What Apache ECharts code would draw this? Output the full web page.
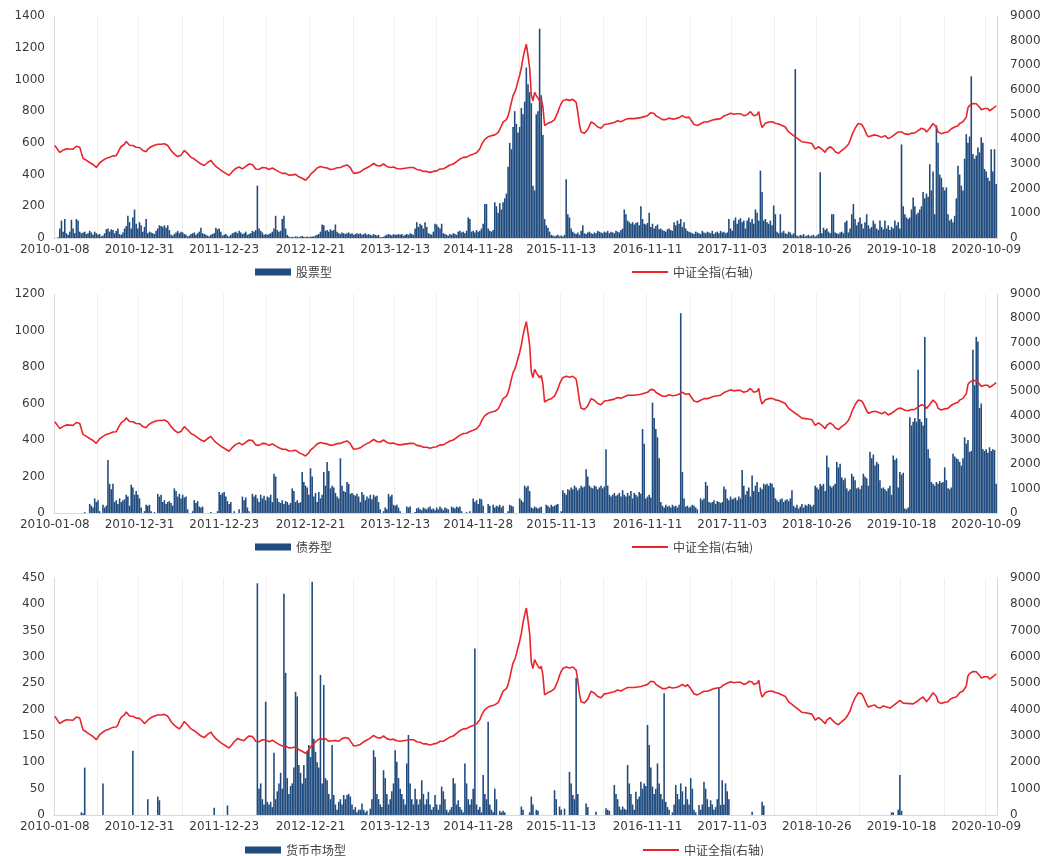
<!DOCTYPE html>
<html><head><meta charset="utf-8">
<script src="https://cdn.jsdelivr.net/npm/echarts@6/dist/echarts.min.js"></script>
<style>html,body{margin:0;padding:0;background:#fff}#c{width:1061px;height:856px}</style>
</head><body><div id="c"></div>
<script>
// weekly observation dates (Fridays) starting 2010-01-08
const START_YEAR = 2010, START_MONTH = 0, START_DAY = 8;
const WEEK_COUNT = 568;

const tickLabels = ['2010-01-08','2010-12-31','2011-12-23','2012-12-21','2013-12-13','2014-11-28',
  '2015-11-13','2016-11-11','2017-11-03','2018-10-26','2019-10-18','2020-10-09'];

// 中证全指 weekly close (right axis)
const csiAll = [
// 2010
3750,3680,3560,3470,3520,3560,3600,3620,3580,3610,3640,3600,3660,3720,3750,3680,3450,3230,3280,3150,
3120,3060,3000,2980,2920,2860,2900,3050,3120,3150,3180,3230,3250,3270,3300,3330,3350,3340,3420,3600,
3710,3760,3810,3910,3850,3760,3720,3750,3700,3680,3650,3670,
// 2011
3650,3550,3470,3500,3600,3670,3700,3720,3760,3790,3800,3780,3800,3830,3820,3790,3750,3650,3550,3470,
3400,3350,3300,3270,3350,3450,3550,3500,3420,3350,3270,3250,3200,3150,3100,3060,3000,2960,2940,3000,
3060,3100,3150,3050,2980,2900,2860,2800,2750,2700,2650,2620,
// 2012
2580,2540,2620,2700,2780,2820,2900,2880,2860,2800,2820,2900,2960,3000,3020,2980,2900,2800,2740,2780,
2820,2860,2880,2850,2800,2780,2820,2840,2800,2760,2720,2680,2640,2620,2600,2620,2580,2550,2540,2560,
2600,2580,2520,2480,2460,2420,2380,2340,2380,2480,2580,2640,
// 2013
2700,2780,2840,2880,2900,2880,2860,2900,2840,2800,2780,2820,2800,2830,2850,2800,2860,2900,2920,2940,
2960,2900,2850,2720,2620,2600,2640,2700,2680,2720,2780,2820,2850,2900,2920,2960,3020,2980,2940,2900,
2920,2960,3000,2960,2900,2880,2860,2900,2880,2840,2820,2800,
// 2014
2800,2780,2820,2860,2840,2800,2860,2840,2860,2820,2780,2800,2760,2720,2700,2740,2700,2680,2660,2680,
2700,2680,2720,2760,2800,2820,2800,2840,2880,2920,2960,3020,3000,3060,3100,3150,3200,3230,3270,3250,
3280,3300,3350,3420,3400,3430,3460,3500,3620,3780,3900,4000,
// 2015
4050,4100,4080,4150,4200,4180,4250,4270,4400,4550,4700,4640,4800,4950,5200,5500,5770,5900,6100,6370,
6600,6900,7300,7600,7860,7400,6900,5800,5560,5900,5770,5700,5560,5650,5300,4560,4500,4650,4600,4700,
4760,4800,4850,5100,5300,5450,5560,5500,5620,5650,5580,5600,
// 2016
5620,5650,5500,5100,4600,4300,4230,4250,4300,4400,4550,4700,4650,4630,4600,4500,4430,4450,4500,4600,
4650,4620,4600,4650,4700,4680,4720,4750,4700,4710,4740,4780,4800,4840,4820,4840,4860,4840,4880,4860,
4840,4880,4900,4920,4940,4960,5000,5080,5120,5050,4960,4900,4880,
// 2017
4850,4800,4760,4800,4840,4860,4840,4820,4860,4840,4840,4880,4900,4960,4920,4880,4960,4900,4800,4700,
4600,4560,4560,4600,4630,4650,4700,4720,4700,4750,4750,4780,4800,4840,4820,4860,4840,4900,4950,4980,
5000,5040,5060,5040,5020,5050,5040,5080,5040,4980,4960,4990,
// 2018
5000,5080,5120,5050,4960,4900,5000,5120,4700,4480,4560,4650,4680,4700,4680,4710,4720,4650,4600,4620,
4580,4560,4550,4500,4400,4300,4270,4200,4140,4100,4070,4000,3930,3900,3950,3880,3900,3860,3850,3830,
3800,3600,3650,3700,3680,3600,3550,3470,3600,3650,3700,3620,
// 2019
3600,3500,3450,3430,3480,3550,3600,3650,3730,3800,3950,4150,4300,4450,4550,4640,4710,4600,4500,4350,
4200,4100,4070,4150,4220,4180,4100,4140,4060,4080,4140,4150,4100,4030,4060,4100,4150,4200,4250,4300,
4350,4300,4250,4220,4240,4200,4230,4250,4220,4260,4300,4350,
// 2020
4400,4450,4480,4400,4300,4350,4450,4550,4640,4600,4500,4300,4250,4230,4300,4280,4350,4300,4380,4430,
4450,4500,4480,4550,4640,4700,4710,4750,4900,5280,5370,5420,5450,5400,5440,5380,5300,5200,5160,5250,
5300,5250,5160,5200,5250,5300,5360
];

// 股票型 (left axis, panel 1)
const equityFunds = [
// 2010
0,0,5,60,110,40,120,30,20,40,115,60,30,120,110,40,30,35,40,25,
30,45,35,20,40,30,20,25,10,15,30,55,60,40,55,50,30,45,60,25,
20,35,60,75,140,100,60,130,180,90,60,100,
// 2011
80,40,70,120,30,40,35,30,25,45,60,80,75,70,80,65,80,50,20,15,
25,35,45,30,40,35,25,20,10,15,25,30,35,20,30,40,65,30,25,20,
15,10,20,25,30,65,55,60,40,15,20,25,
// 2012
15,10,20,30,35,40,30,45,35,25,30,40,20,25,30,45,40,50,330,60,
45,35,20,25,20,25,30,40,60,140,50,40,45,120,140,60,20,10,5,8,
5,10,8,5,10,12,8,5,10,5,8,10,
// 2013
10,15,20,25,40,85,80,45,50,40,55,45,50,85,40,30,25,35,30,25,
30,35,25,30,20,25,30,25,30,20,25,30,20,25,20,15,25,20,15,20,
5,5,8,15,20,25,20,15,25,20,20,25,
// 2014
20,25,15,20,25,20,30,25,20,60,100,70,90,80,60,100,70,30,25,20,
40,90,85,70,60,90,30,25,20,15,25,20,30,25,20,40,45,35,40,30,
45,130,120,40,45,35,50,40,45,60,90,215,
// 2015
215,60,45,40,50,225,200,160,220,180,225,250,280,450,600,560,700,800,720,665,
700,820,780,860,1075,970,920,850,330,300,780,800,1320,900,650,120,80,65,40,20,
15,10,15,20,10,15,10,20,370,150,130,60,
// 2016
40,30,25,35,20,45,80,30,25,35,40,30,25,35,30,45,40,35,30,40,
35,45,30,40,35,30,45,40,35,50,60,180,150,110,100,90,100,85,95,100,
80,200,120,90,85,95,160,70,90,60,75,85,55,
// 2017
60,50,45,40,55,60,50,45,100,80,110,90,120,70,100,60,45,40,35,30,
25,40,35,30,25,45,35,30,40,35,30,45,25,35,40,30,45,35,40,30,
35,120,60,45,110,130,90,115,125,100,110,60,
// 2018
110,130,100,120,90,180,160,110,425,290,110,120,100,90,110,80,205,150,40,30,
150,35,45,30,25,40,35,20,30,1065,15,10,20,15,25,10,15,20,10,15,
20,10,15,25,415,30,65,50,60,40,30,150,
// 2019
150,35,30,25,35,40,30,100,110,35,60,150,215,120,80,100,130,90,60,100,
150,80,60,70,110,90,60,50,110,70,55,110,60,80,50,70,60,110,80,100,
60,590,200,150,130,120,130,180,255,200,150,160,
// 2020
180,200,290,250,280,260,465,300,420,150,710,600,400,380,320,300,320,150,110,120,
100,140,250,455,400,330,300,500,655,600,640,1020,530,500,520,570,540,635,600,435,
420,380,360,560,420,560,340
];

// 债券型 (left axis, panel 2)
const bondFunds = [
// 2010
0,0,0,0,0,0,0,0,0,0,0,0,0,0,0,0,0,0,5,0,
0,50,40,30,80,60,70,10,0,45,30,40,290,160,130,160,60,70,50,80,
60,70,75,100,90,40,155,140,100,120,100,80,
// 2011
30,0,10,45,40,45,10,0,5,0,105,90,100,60,70,50,60,65,55,40,
135,120,90,105,80,100,85,90,20,0,0,10,70,55,65,35,30,35,0,0,
0,0,5,0,0,0,10,115,100,110,115,90,
// 2012
65,50,60,0,10,0,0,20,0,90,70,85,30,10,0,105,90,100,80,60,
100,80,95,70,90,85,100,60,215,200,80,60,55,70,50,65,60,45,55,135,
120,60,70,55,60,225,170,150,140,100,245,200,
// 2013
90,110,60,115,80,100,225,150,280,230,135,150,140,110,90,80,300,150,120,115,
170,160,105,110,100,95,105,90,60,115,100,70,90,80,100,75,100,90,95,60,
20,0,10,30,20,105,90,100,45,40,45,30,
// 2014
10,0,0,0,35,30,35,0,0,5,25,30,20,15,30,25,20,30,35,20,
25,15,30,20,35,25,15,30,25,20,0,35,30,25,35,30,35,10,0,0,
5,0,10,0,80,60,70,50,80,75,40,0,
// 2015
0,50,40,0,45,30,40,35,45,30,40,0,0,10,45,40,35,0,0,0,
80,70,60,150,140,150,120,30,25,35,30,25,30,35,0,0,45,40,30,45,
35,40,45,50,0,10,125,110,100,130,125,140,
// 2016
130,150,140,125,135,150,140,145,240,200,150,140,135,150,145,130,140,150,135,145,
350,150,100,90,100,110,95,100,110,90,125,100,90,110,95,120,80,110,100,90,
115,105,460,380,80,90,100,85,605,520,460,415,300,
// 2017
60,40,30,45,35,40,30,45,35,40,30,45,1095,225,80,35,40,30,35,45,
40,30,20,0,80,70,80,170,150,60,55,60,70,50,65,60,55,60,145,130,
80,70,90,75,80,85,70,90,80,235,150,100,
// 2018
120,140,90,205,120,150,170,115,140,130,160,155,160,150,165,160,140,80,70,60,
75,80,60,70,75,65,80,125,40,30,45,25,35,50,30,45,40,50,45,35,
45,150,140,130,160,150,160,120,315,250,150,140,
// 2019
150,160,280,250,270,195,180,190,135,120,130,215,200,180,135,140,130,150,215,200,
190,150,335,300,320,260,280,270,180,135,140,130,120,135,150,100,315,290,300,140,
225,210,220,25,20,30,525,480,500,520,500,785,
// 2020
515,500,480,965,520,350,300,170,160,150,170,160,175,165,170,250,180,135,130,140,
325,310,300,295,280,260,300,415,380,400,335,340,895,700,965,940,575,600,350,340,
350,330,360,340,350,345,160
];

// 货币市场型 (left axis, panel 3)
const moneyFunds = [
// 2010
0,0,0,0,0,0,0,0,0,0,0,0,0,0,0,0,5,3,90,0,
0,0,0,0,0,0,0,0,0,60,0,0,0,0,0,0,0,0,0,0,
0,0,0,0,0,0,0,122,0,0,0,0,
// 2011
0,0,0,0,30,0,0,0,0,0,35,28,0,0,0,0,0,0,0,0,
0,0,0,0,0,0,0,0,0,0,0,0,0,0,0,0,0,0,0,0,
0,0,0,0,14,0,0,0,0,0,0,0,
// 2012
18,0,0,0,0,0,0,0,0,0,0,0,0,0,0,0,0,0,440,50,
60,30,20,215,25,20,25,15,118,30,45,60,80,50,420,270,70,40,55,60,
90,234,225,95,80,60,95,70,120,133,110,443,
// 2013
145,120,100,90,266,60,247,70,66,40,30,133,38,20,10,25,30,20,38,30,
38,40,35,20,10,15,5,10,10,22,10,5,8,0,12,30,123,110,40,30,
20,15,85,70,40,20,30,45,60,123,101,70,
// 2014
50,40,30,20,98,152,60,30,20,50,30,20,30,66,40,20,30,44,20,10,
15,38,20,10,20,54,45,30,10,5,10,15,70,60,20,28,15,10,5,98,
60,30,20,30,50,316,20,10,15,5,76,40,
// 2015
30,177,20,10,5,50,30,0,8,5,8,5,0,0,0,0,0,0,0,0,
0,16,10,0,0,0,5,35,20,0,10,8,0,0,0,0,0,0,0,0,
0,47,30,0,16,10,0,12,0,0,82,60,
// 2016
38,30,260,40,0,0,0,0,22,15,0,0,0,0,6,0,0,0,0,0,
13,10,8,0,0,57,40,30,16,10,16,12,10,95,60,40,20,10,44,30,
35,63,50,60,55,171,133,90,54,40,50,98,60,
// 2017
40,30,231,25,15,10,0,5,20,57,40,30,60,45,20,54,30,20,70,50,
10,5,0,19,10,20,63,50,30,15,28,20,10,15,30,241,19,66,20,60,
45,30,0,0,0,0,0,0,0,0,0,0,
// 2018
0,0,0,6,0,0,0,0,0,25,18,0,0,0,0,0,0,0,0,0,
0,0,0,0,0,0,0,0,0,0,0,0,0,0,0,0,0,0,0,0,
0,0,0,0,0,0,0,0,0,0,0,0,
// 2019
0,0,0,0,0,0,0,0,0,0,0,0,0,0,0,0,0,0,0,0,
0,0,0,0,0,0,0,0,0,0,0,0,0,0,0,5,5,0,0,10,
76,8,0,0,0,0,0,0,0,0,0,0,
// 2020
0,0,0,0,0,0,0,0,0,0,0,0,0,0,0,0,0,0,0,0,
0,0,0,0,0,0,0,0,0,0,0,0,0,0,0,0,0,0,0,0,
0,0,0,0,0,0,0
];

const leftAxes = [ {max:1400, interval:200}, {max:1200, interval:200}, {max:450, interval:50} ];
const barNames = ['股票型','债券型','货币市场型'];
const lineName = '中证全指(右轴)';

const dates = [];
for (let k = 0; k < WEEK_COUNT; k++) {
  const d = new Date(Date.UTC(START_YEAR, START_MONTH, START_DAY + 7 * k));
  dates.push(d.toISOString().slice(0, 10));
}
[csiAll, equityFunds, bondFunds, moneyFunds].forEach((a, n) => {
  if (a.length !== WEEK_COUNT) console.error('length mismatch', n, a.length);
});

const tickSet = new Set(tickLabels);
const tickIdx = tickLabels.map(t => dates.indexOf(t));
const gridSet = new Set();
tickIdx.forEach((v, k) => { gridSet.add(v); if (k < tickIdx.length - 1) gridSet.add(Math.round((v + tickIdx[k + 1]) / 2)); });

const FONT = 'DejaVu Sans';
const TXT = '#3a3a3a';
const AX = '#d9d9d9';
const BAR = '#1F4B7E';
const RED = '#E8252D';
const plain = v => String(v);

const grids = [
  {left:54, right:64, top:16, height:222},
  {left:54, right:64, top:294, height:219},
  {left:54, right:64, top:578, height:237}
];

const xAxis = grids.map((g, i) => ({
  type:'category', gridIndex:i, data:dates, boundaryGap:true,
  axisTick:{show:false},
  axisLine:{show:true, lineStyle:{color:AX}},
  axisLabel:{interval:(idx, val) => tickSet.has(val), color:TXT, fontFamily:FONT, fontSize:12, margin:6, hideOverlap:false},
  splitLine:{show:true, interval:(idx) => gridSet.has(idx), lineStyle:{color:'#efefef', width:1}}
}));

const yAxis = [];
grids.forEach((g, i) => {
  yAxis.push({type:'value', gridIndex:i, min:0, max:leftAxes[i].max, interval:leftAxes[i].interval,
    axisLine:{show:true, lineStyle:{color:AX}}, axisTick:{show:false}, splitLine:{show:false},
    axisLabel:{color:TXT, fontFamily:FONT, fontSize:12, margin:9, formatter:plain}});
  yAxis.push({type:'value', gridIndex:i, min:0, max:9000, interval:1000, position:'right',
    axisLine:{show:true, lineStyle:{color:AX}}, axisTick:{show:false}, splitLine:{show:false},
    axisLabel:{color:TXT, fontFamily:FONT, fontSize:12, margin:13, formatter:plain}});
});

const barData = [equityFunds, bondFunds, moneyFunds];
const series = [];
grids.forEach((g, i) => {
  series.push({name:barNames[i], type:'bar', xAxisIndex:i, yAxisIndex:2*i, data:barData[i],
    barCategoryGap:'5%', itemStyle:{color:BAR}, animation:false, z:2});
  series.push({name:lineName, type:'line', xAxisIndex:i, yAxisIndex:2*i+1, data:csiAll,
    showSymbol:false, symbol:'none', lineStyle:{color:RED, width:1.6}, itemStyle:{color:RED}, animation:false, z:3});
});

const legTxt = {color:'#404040', fontSize:12, fontFamily:'Noto Sans CJK SC'};
const legendPos = [ {bar:[250,261], line:[627,261]}, {bar:[250,536], line:[627,536]}, {bar:[240,839], line:[638,839]} ];
const legend = [];
legendPos.forEach((p, i) => {
  legend.push({data:[barNames[i]], left:p.bar[0], top:p.bar[1], icon:'rect', itemWidth:36, itemHeight:7, itemGap:6, textStyle:legTxt, selectedMode:false});
  legend.push({data:[lineName], left:p.line[0], top:p.line[1], icon:'rect', itemWidth:36, itemHeight:2, itemGap:6, textStyle:legTxt, selectedMode:false});
});

const chart = echarts.init(document.getElementById('c'), null, {renderer:'canvas'});
chart.setOption({backgroundColor:'#ffffff', animation:false, grid:grids, xAxis, yAxis, series, legend});
</script>
</body></html>
